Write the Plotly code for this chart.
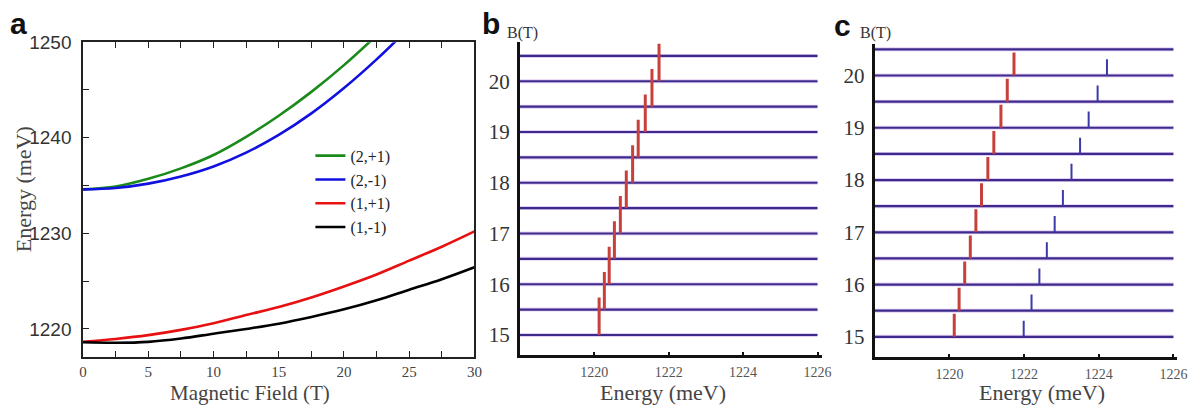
import plotly.graph_objects as go

# ---------------- data ----------------
# panel a: energy levels vs magnetic field
FIELD = [0, 2.5, 5, 7.5, 10, 12.5, 15, 17.5, 20, 22.5, 25, 27.5, 30]
E_2P1 = [1234.6, 1234.9, 1235.7, 1236.8, 1238.2, 1240.1, 1242.3, 1244.8, 1247.6, 1250.7]
E_2M1 = [1234.6, 1234.75, 1235.2, 1235.95, 1237.0, 1238.45, 1240.3, 1242.55, 1245.2, 1248.2, 1251.5]
E_1P1 = [1218.65, 1218.95, 1219.35, 1219.9, 1220.6, 1221.45, 1222.3, 1223.3, 1224.45, 1225.7, 1227.15, 1228.6, 1230.2]
E_1M1 = [1218.6, 1218.55, 1218.65, 1219.0, 1219.5, 1220.0, 1220.55, 1221.25, 1222.05, 1223.0, 1224.1, 1225.2, 1226.45]
LEGEND_NAMES = ["(2,+1)", "(2,-1)", "(1,+1)", "(1,-1)"]

# panels b, c: spectra at fixed fields
B_LEVELS = [15.0, 15.5, 16.0, 16.5, 17.0, 17.5, 18.0, 18.5, 19.0, 19.5, 20.0, 20.5]
B_PEAK_FIELDS = [15.0, 15.5, 16.0, 16.5, 17.0, 17.5, 18.0, 18.5, 19.0, 19.5, 20.0]
B_PEAKS = [1220.13, 1220.27, 1220.40, 1220.54, 1220.70, 1220.86, 1221.03, 1221.18, 1221.37, 1221.55, 1221.74]
C_RED = [1220.13, 1220.26, 1220.41, 1220.56, 1220.71, 1220.86, 1221.03, 1221.19, 1221.38, 1221.55, 1221.73]
C_BLUE = [1221.99, 1222.20, 1222.41, 1222.61, 1222.82, 1223.04, 1223.27, 1223.50, 1223.73, 1223.97, 1224.22]
B_INT = 0.74      # peak height in panel b (T units)
C_INT_RED = 0.44
C_INT_BLUE = 0.31
E_TICKS = [1220, 1222, 1224, 1226]
B_TICKS = [15, 16, 17, 18, 19, 20]

# ---------------- layout helpers ----------------
W, H = 1200, 406
def fx(p):
    return p / W
def fy(p):
    return 1 - p / H

SERIF = "'Liberation Serif', 'Times New Roman', Times, serif"
SANS = "'Liberation Sans', Arial, Helvetica, sans-serif"
LEVEL_COLOR = "#3c2b8c"

fig = go.Figure()

# panel a curves
colors = ["#1a8a1a", "#1010e0", "#e81010", "#000000"]
series = [E_2P1, E_2M1, E_1P1, E_1M1]
for name, col, ys in zip(LEGEND_NAMES, colors, series):
    fig.add_trace(go.Scatter(x=FIELD[:len(ys)], y=ys, mode="lines", name=name,
                             line=dict(color=col, width=2.6, shape="spline"),
                             xaxis="x", yaxis="y", showlegend=True))

def levels(xa, ya, emin, emax):
    xs, ys = [], []
    for b in B_LEVELS:
        xs += [emin, emax, None]
        ys += [b, b, None]
    fig.add_trace(go.Scatter(x=xs, y=ys, mode="lines", line=dict(color="#c9a0e8", width=4),
                             opacity=0.5, xaxis=xa, yaxis=ya, showlegend=False, hoverinfo="skip"))
    fig.add_trace(go.Scatter(x=xs, y=ys, mode="lines", line=dict(color=LEVEL_COLOR, width=2.2),
                             xaxis=xa, yaxis=ya, showlegend=False, hoverinfo="skip"))

def sticks(xa, ya, energies, fields, h, color, width):
    xs, ys = [], []
    for e, b in zip(energies, fields):
        xs += [e, e, None]
        ys += [b, b + h, None]
    fig.add_trace(go.Scatter(x=xs, y=ys, mode="lines", line=dict(color=color, width=width),
                             xaxis=xa, yaxis=ya, showlegend=False, hoverinfo="skip"))

levels("x2", "y2", 1218, 1226)
sticks("x2", "y2", B_PEAKS, B_PEAK_FIELDS, B_INT, "#c8403c", 3)
levels("x3", "y3", 1218, 1226)
sticks("x3", "y3", C_RED, B_PEAK_FIELDS, C_INT_RED, "#c8403c", 3)
sticks("x3", "y3", C_BLUE, B_PEAK_FIELDS, C_INT_BLUE, "#3a3aa8", 2)

# axes
fig.update_layout(
    width=W, height=H, margin=dict(l=0, r=0, t=0, b=0),
    paper_bgcolor="white", plot_bgcolor="white",
    showlegend=True,
    legend=dict(x=fx(310), y=fy(132), xanchor="left", yanchor="top",
                font=dict(family=SERIF, size=16, color="#222"),
                bgcolor="rgba(0,0,0,0)", tracegroupgap=0, itemwidth=30),
    xaxis=dict(domain=[fx(80), fx(476)], range=[0, 30], anchor="y",
               showline=True, linecolor="#222", linewidth=1.5, mirror="ticks",
               ticks="inside", ticklen=6, tickcolor="#222", dtick=5, tick0=0,
               minor=dict(dtick=2.5, ticks="inside", ticklen=6, tickcolor="#222"),
               showgrid=False, zeroline=False,
               tickfont=dict(family=SERIF, size=15, color="#444"), ticklabelstandoff=0),
    yaxis=dict(domain=[fy(356), fy(33)], range=[1217.04, 1250], anchor="x",
               showline=True, linecolor="#222", linewidth=1.5, mirror=True,
               ticks="inside", ticklen=6, tickcolor="#222", tickvals=[1220, 1230, 1240, 1250],
               minor=dict(tickvals=[1225, 1235, 1245], ticks="inside", ticklen=6, tickcolor="#222"),
               showgrid=False, zeroline=False,
               tickfont=dict(family=SANS, size=19, color="#333"), ticklabelstandoff=6),
    xaxis2=dict(domain=[fx(522), fx(828)], range=[1218, 1226.13], anchor="y2",
                showline=True, linecolor="#111", linewidth=3,
                ticks="inside", ticklen=3, tickwidth=2, tickcolor="#111", tickvals=E_TICKS,
                showgrid=False, zeroline=False,
                tickfont=dict(family=SERIF, size=14, color="#555"), ticklabelstandoff=2),
    yaxis2=dict(domain=[fy(354), fy(33)], range=[14.6, 20.77], anchor="x2",
                showline=True, linecolor="#111", linewidth=3, ticks="", tickvals=B_TICKS,
                showgrid=False, zeroline=False,
                tickfont=dict(family=SERIF, size=21, color="#333"), ticklabelstandoff=3),
    xaxis3=dict(domain=[fx(881), fx(1187)], range=[1218, 1226.1], anchor="y3",
                showline=True, linecolor="#111", linewidth=3,
                ticks="inside", ticklen=3, tickwidth=2, tickcolor="#111", tickvals=E_TICKS,
                showgrid=False, zeroline=False,
                tickfont=dict(family=SERIF, size=14, color="#555"), ticklabelstandoff=2),
    yaxis3=dict(domain=[fy(356), fy(35)], range=[14.61, 20.6], anchor="x3",
                showline=True, linecolor="#111", linewidth=3, ticks="", tickvals=B_TICKS,
                showgrid=False, zeroline=False,
                tickfont=dict(family=SERIF, size=21, color="#333"), ticklabelstandoff=3),
)

ann = []
def text(x, y, s, size, family, color="#222", bold=False, angle=0, xanchor="center", yanchor="middle"):
    ann.append(dict(x=fx(x), y=fy(y), xref="paper", yref="paper", text=("<b>%s</b>" % s) if bold else s,
                    showarrow=False, font=dict(family=family, size=size, color=color),
                    textangle=angle, xanchor=xanchor, yanchor=yanchor))

text(15, 14, "a", 30, SANS, "#111", bold=True)
text(493, 14, "b", 30, SANS, "#111", bold=True)
text(848, 16, "c", 30, SANS, "#111", bold=True)
text(525, 24, "B(T)", 16, SERIF, "#333")
text(882, 24, "B(T)", 16, SERIF, "#333")
text(20, 184, "Energy (meV)", 22, SERIF, "#444", angle=-90)
text(249, 393, "Magnetic Field (T)", 21, SERIF, "#444")
text(667, 392, "Energy (meV)", 22, SERIF, "#444")
text(1050, 392, "Energy (meV)", 22, SERIF, "#444")
fig.update_layout(annotations=ann)

fig.write_html("out.html", config={"displayModeBar": False},
               post_script="document.body.style.margin='0';document.body.style.padding='0';")
